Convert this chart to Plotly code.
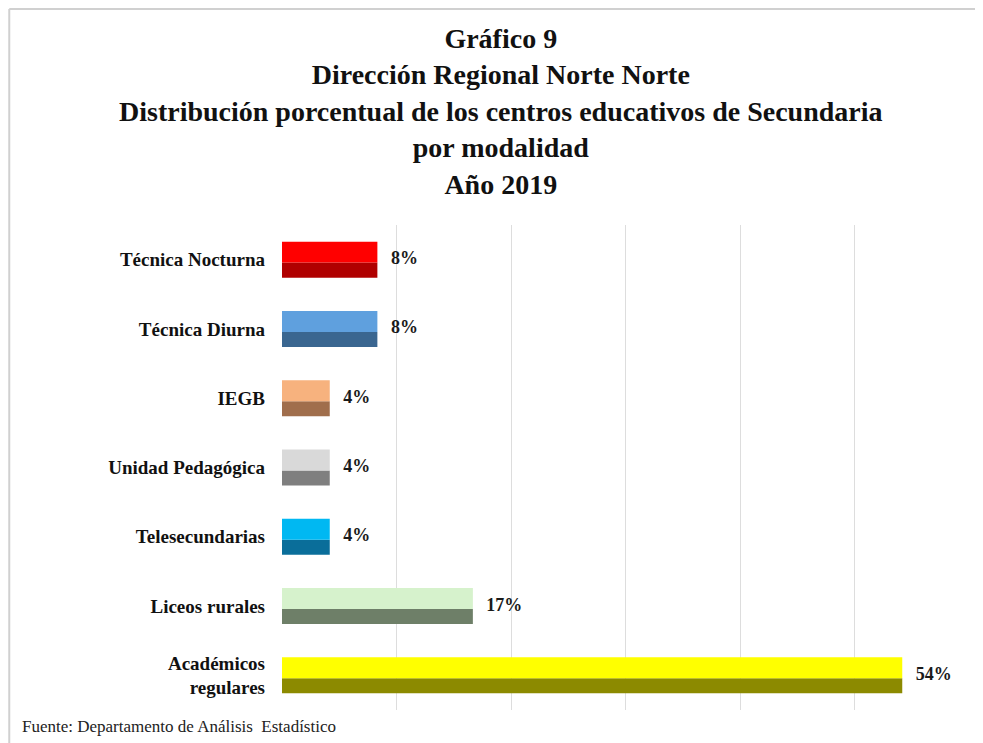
import plotly.graph_objects as go

# datos (de abajo hacia arriba); 24 centros en total
categorias = ["Académicos<br>regulares", "Liceos rurales", "Telesecundarias",
              "Unidad Pedagógica", "IEGB", "Técnica Diurna", "Técnica Nocturna"]
porcentajes = [54.17, 16.67, 4.17, 4.17, 4.17, 8.33, 8.33]
etiquetas = ["54%", "17%", "4%", "4%", "4%", "8%", "8%"]

color_claro = ["#FFFF00", "#D6F2CC", "#00B8F2", "#D9D9D9", "#F7B27E", "#5FA0DE", "#FF0000"]
color_oscuro = ["#8C8A00", "#6E7F68", "#0A6E9A", "#7F7F7F", "#A06E4C", "#3A6690", "#B00000"]

serif = "Liberation Serif, Times New Roman, serif"

fig = go.Figure()
# mitad inferior (oscura)
fig.add_trace(go.Bar(
    y=categorias, x=porcentajes, orientation="h",
    base=0, offset=-0.26, width=0.217,
    marker=dict(color=color_oscuro, line=dict(width=0)),
    hoverinfo="skip", showlegend=False,
))
# mitad superior (clara)
fig.add_trace(go.Bar(
    y=categorias, x=porcentajes, orientation="h",
    base=0, offset=-0.043, width=0.303,
    marker=dict(color=color_claro, line=dict(width=0)),
    hoverinfo="skip", showlegend=False,
))
# etiquetas de valor
fig.add_trace(go.Scatter(
    y=categorias, x=porcentajes, mode="text",
    text=["   " + e for e in etiquetas], textposition="middle right",
    textfont=dict(family=serif, size=18, color="#1a1a1a", weight="bold"),
    hoverinfo="skip", showlegend=False, cliponaxis=False,
))

# la página añade 8px de margen, por eso el lienzo es algo menor
fig.update_layout(
    width=975, height=735,
    paper_bgcolor="white", plot_bgcolor="white",
    barmode="overlay",
    margin=dict(l=274, r=14, t=217, b=33),
    xaxis=dict(range=[0, 60], tick0=0, dtick=10, showticklabels=False,
               showgrid=True, gridcolor="#DDDDDD", gridwidth=1,
               zeroline=False, showline=False, ticks=""),
    yaxis=dict(categoryorder="array", categoryarray=categorias,
               showgrid=False, showline=False, zeroline=False, ticks="",
               ticklabelstandoff=16,
               tickfont=dict(family=serif, size=19, color="#111111", weight="bold")),
    shapes=[
        dict(type="line", xref="paper", yref="paper", x0=-0.397, x1=1.03,
             y0=1.4454, y1=1.4454, line=dict(color="#D0D0D0", width=2)),
        dict(type="line", xref="paper", yref="paper", x0=-0.397, x1=-0.397,
             y0=1.4454, y1=-0.1, line=dict(color="#D0D0D0", width=2)),
    ],
    annotations=[
        dict(text="<b>Gráfico 9<br>Dirección Regional Norte Norte<br>"
                  "Distribución porcentual de los centros educativos de Secundaria<br>"
                  "por modalidad<br>Año 2019</b>",
             xref="paper", yref="paper", x=0.319, y=1.4206,
             xanchor="center", yanchor="top", showarrow=False, align="center",
             font=dict(family=serif, size=28, color="#111111")),
        dict(text="Fuente: Departamento de Análisis  Estadístico",
             xref="paper", yref="paper", x=-0.381, y=-0.035,
             xanchor="left", yanchor="middle", showarrow=False,
             font=dict(family=serif, size=17, color="#222222")),
    ],
)

fig.write_html("out.html")
